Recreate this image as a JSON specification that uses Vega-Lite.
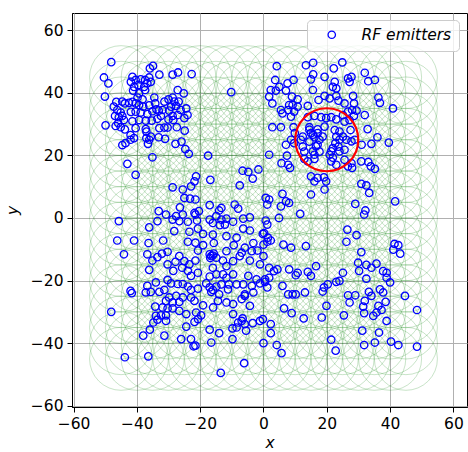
{
  "$schema": "https://vega.github.io/schema/vega-lite/v6.json",
  "width": 395,
  "height": 394,
  "autosize": {"type": "none"},
  "padding": {"left": 72, "top": 13, "right": 1, "bottom": 45},
  "config": {
    "view": {"stroke": "#000000", "strokeWidth": 1},
    "font": "DejaVu Sans",
    "axis": {
      "labelFont": "DejaVu Sans", "labelFontSize": 15.5, "labelColor": "#000000",
      "tickColor": "#000000", "domainColor": "#000000", "domainWidth": 1, "tickWidth": 1,
      "tickSize": 5, "labelPadding": 4,
      "gridColor": "#b0b0b0", "gridWidth": 1,
      "titleFont": "DejaVu Sans", "titleFontSize": 15.5, "titleFontStyle": "italic",
      "titleFontWeight": "normal", "titleColor": "#000000"
    }
  },
  "datasets": {
    "grid": [
      {"x": -45, "ys": [-45,-40,-35,-30,-25,-20,-15,-10,-5,0,5,10,15,20,25,30,35,40,45]},
      {"x": -40, "ys": [-45,-40,-35,-30,-25,-20,-15,-10,-5,0,5,10,15,20,25,30,35,40,45]},
      {"x": -35, "ys": [-45,-40,-35,-30,-25,-20,-15,-10,-5,0,5,10,15,20,25,30,35,40,45]},
      {"x": -30, "ys": [-45,-40,-35,-30,-25,-20,-15,-10,-5,0,5,10,15,20,25,30,35,40,45]},
      {"x": -25, "ys": [-45,-40,-35,-30,-25,-20,-15,-10,-5,0,5,10,15,20,25,30,35,40,45]},
      {"x": -20, "ys": [-45,-40,-35,-30,-25,-20,-15,-10,-5,0,5,10,15,20,25,30,35,40,45]},
      {"x": -15, "ys": [-45,-40,-35,-30,-25,-20,-15,-10,-5,0,5,10,15,20,25,30,35,40,45]},
      {"x": -10, "ys": [-45,-40,-35,-30,-25,-20,-15,-10,-5,0,5,10,15,20,25,30,35,40,45]},
      {"x": -5, "ys": [-45,-40,-35,-30,-25,-20,-15,-10,-5,0,5,10,15,20,25,30,35,40,45]},
      {"x": 0, "ys": [-45,-40,-35,-30,-25,-20,-15,-10,-5,0,5,10,15,20,25,30,35,40,45]},
      {"x": 5, "ys": [-45,-40,-35,-30,-25,-20,-15,-10,-5,0,5,10,15,20,25,30,35,40,45]},
      {"x": 10, "ys": [-45,-40,-35,-30,-25,-20,-15,-10,-5,0,5,10,15,20,25,30,35,40,45]},
      {"x": 15, "ys": [-45,-40,-35,-30,-25,-20,-15,-10,-5,0,5,10,15,20,25,30,35,40,45]},
      {"x": 20, "ys": [-45,-40,-35,-30,-25,-20,-15,-10,-5,0,5,10,15,20,25,30,35,40,45]},
      {"x": 25, "ys": [-45,-40,-35,-30,-25,-20,-15,-10,-5,0,5,10,15,20,25,30,35,40,45]},
      {"x": 30, "ys": [-45,-40,-35,-30,-25,-20,-15,-10,-5,0,5,10,15,20,25,30,35,40,45]},
      {"x": 35, "ys": [-45,-40,-35,-30,-25,-20,-15,-10,-5,0,5,10,15,20,25,30,35,40,45]},
      {"x": 40, "ys": [-45,-40,-35,-30,-25,-20,-15,-10,-5,0,5,10,15,20,25,30,35,40,45]},
      {"x": 45, "ys": [-45,-40,-35,-30,-25,-20,-15,-10,-5,0,5,10,15,20,25,30,35,40,45]}
    ],
    "target": [{"x": 20, "y": 25}],
    "emitters": [
      {"x":-48.1,"y":49.8},{"x":-50.4,"y":44.9},{"x":-49.0,"y":43.0},{"x":-50.1,"y":38.8},{"x":-49.9,"y":29.6},{"x":-35.9,"y":47.8},{"x":-34.9,"y":48.6},{"x":-32.9,"y":45.8},{"x":-28.7,"y":45.8},{"x":-27.0,"y":46.5},{"x":-22.7,"y":46.0},{"x":-41.4,"y":45.1},{"x":-40.4,"y":44.1},{"x":-38.8,"y":44.3},{"x":-37.4,"y":44.1},{"x":-36.1,"y":44.9},{"x":-35.6,"y":43.5},{"x":-41.9,"y":43.5},{"x":-40.9,"y":41.9},{"x":-39.5,"y":42.5},{"x":-37.7,"y":41.9},{"x":-36.7,"y":43.0},{"x":-41.2,"y":40.7},{"x":-39.3,"y":39.8},{"x":-37.4,"y":40.9},{"x":-39.8,"y":38.5},{"x":-38.2,"y":37.9},{"x":-10.2,"y":40.2},{"x":-46.5,"y":37.1},{"x":-44.6,"y":37.2},{"x":-43.8,"y":36.6},{"x":-42.5,"y":36.8},{"x":-41.4,"y":37.1},{"x":-47.3,"y":35.6},{"x":-46.2,"y":34.5},{"x":-45.1,"y":33.7},{"x":-46.9,"y":32.6},{"x":-45.7,"y":32.2},{"x":-44.6,"y":32.6},{"x":-44.1,"y":31.3},{"x":-45.9,"y":30.3},{"x":-46.7,"y":29.4},{"x":-45.1,"y":29.0},{"x":-43.8,"y":28.3},{"x":-41.9,"y":33.9},{"x":-40.4,"y":34.0},{"x":-38.8,"y":33.7},{"x":-36.7,"y":33.2},{"x":-39.3,"y":31.3},{"x":-37.2,"y":31.1},{"x":-38.0,"y":35.6},{"x":-36.1,"y":36.0},{"x":-34.5,"y":38.5},{"x":-34.2,"y":36.6},{"x":-33.8,"y":34.7},{"x":-35.1,"y":34.1},{"x":-33.1,"y":34.3},{"x":-31.9,"y":34.5},{"x":-32.4,"y":32.6},{"x":-33.5,"y":31.7},{"x":-35.3,"y":31.1},{"x":-31.3,"y":37.2},{"x":-30.0,"y":37.9},{"x":-28.7,"y":38.5},{"x":-27.1,"y":40.9},{"x":-25.2,"y":39.8},{"x":-26.8,"y":37.2},{"x":-28.2,"y":37.2},{"x":-29.2,"y":35.6},{"x":-29.8,"y":34.3},{"x":-27.6,"y":35.8},{"x":-26.2,"y":34.5},{"x":-24.4,"y":35.0},{"x":-24.0,"y":32.9},{"x":-25.0,"y":31.9},{"x":-27.1,"y":32.9},{"x":-28.7,"y":32.6},{"x":-30.0,"y":31.5},{"x":-28.5,"y":31.3},{"x":-41.4,"y":30.9},{"x":-40.4,"y":28.7},{"x":-37.2,"y":28.4},{"x":-37.0,"y":27.6},{"x":-32.9,"y":28.7},{"x":-31.3,"y":28.9},{"x":-30.3,"y":28.9},{"x":-27.4,"y":29.0},{"x":-24.9,"y":27.9},{"x":-42.0,"y":26.5},{"x":-40.9,"y":25.5},{"x":-42.0,"y":25.0},{"x":-43.6,"y":23.9},{"x":-44.6,"y":23.3},{"x":-37.0,"y":25.5},{"x":-36.1,"y":25.0},{"x":-36.5,"y":23.7},{"x":-35.6,"y":26.0},{"x":-33.1,"y":25.8},{"x":-31.1,"y":25.3},{"x":-27.8,"y":23.7},{"x":-25.9,"y":24.4},{"x":-24.7,"y":22.0},{"x":-23.6,"y":20.5},{"x":-35.1,"y":19.4},{"x":-17.5,"y":19.9},{"x":-40.4,"y":36.6},{"x":-39.3,"y":36.1},
      {"x":4.2,"y":48.5},{"x":13.4,"y":48.8},{"x":15.7,"y":49.6},{"x":24.9,"y":49.7},{"x":22.2,"y":47.8},{"x":32.0,"y":46.4},{"x":33.1,"y":43.7},{"x":35.2,"y":44.1},{"x":19.3,"y":45.1},{"x":15.7,"y":45.9},{"x":15.0,"y":44.3},{"x":3.7,"y":44.1},{"x":5.0,"y":41.9},{"x":7.6,"y":43.0},{"x":9.5,"y":44.1},{"x":2.3,"y":40.9},{"x":3.9,"y":40.7},{"x":1.8,"y":38.8},{"x":2.8,"y":36.6},{"x":7.1,"y":40.7},{"x":15.6,"y":40.9},{"x":22.5,"y":43.5},{"x":23.0,"y":41.4},{"x":21.9,"y":41.9},{"x":26.7,"y":44.6},{"x":27.8,"y":45.1},{"x":27.2,"y":43.5},{"x":9.0,"y":38.8},{"x":10.8,"y":37.9},{"x":9.2,"y":36.1},{"x":8.1,"y":36.1},{"x":17.4,"y":37.7},{"x":19.3,"y":39.0},{"x":20.9,"y":38.2},{"x":23.0,"y":39.0},{"x":23.7,"y":37.5},{"x":25.6,"y":36.6},{"x":28.3,"y":39.0},{"x":28.6,"y":36.6},{"x":36.3,"y":38.5},{"x":36.8,"y":36.8},{"x":40.9,"y":35.0},{"x":5.5,"y":34.5},{"x":6.0,"y":33.4},{"x":7.8,"y":34.5},{"x":9.7,"y":34.0},{"x":8.7,"y":32.4},{"x":10.8,"y":35.6},{"x":14.0,"y":35.8},{"x":14.0,"y":32.2},{"x":16.1,"y":32.6},{"x":18.2,"y":32.2},{"x":19.8,"y":31.9},{"x":21.4,"y":32.2},{"x":23.0,"y":31.5},{"x":25.1,"y":32.9},{"x":26.7,"y":34.0},{"x":28.0,"y":34.5},{"x":29.4,"y":34.3},{"x":28.6,"y":32.6},{"x":27.2,"y":31.3},{"x":25.6,"y":30.8},{"x":32.0,"y":32.9},{"x":2.8,"y":29.0},{"x":5.5,"y":29.0},{"x":9.5,"y":29.0},{"x":9.9,"y":27.1},{"x":8.7,"y":25.0},{"x":7.1,"y":23.4},{"x":9.7,"y":23.9},{"x":11.8,"y":25.0},{"x":12.4,"y":26.0},{"x":14.5,"y":29.0},{"x":15.0,"y":27.1},{"x":17.1,"y":28.3},{"x":16.1,"y":25.8},{"x":17.1,"y":23.4},{"x":18.7,"y":26.0},{"x":14.5,"y":24.4},{"x":12.4,"y":22.8},{"x":12.9,"y":21.2},{"x":17.7,"y":21.2},{"x":22.5,"y":28.1},{"x":24.0,"y":27.6},{"x":23.0,"y":26.0},{"x":24.0,"y":25.0},{"x":22.7,"y":23.9},{"x":23.7,"y":22.8},{"x":25.1,"y":26.0},{"x":25.6,"y":21.8},{"x":21.9,"y":22.3},{"x":20.9,"y":20.2},{"x":27.5,"y":28.1},{"x":28.8,"y":25.0},{"x":31.0,"y":23.4},{"x":32.9,"y":28.4},{"x":34.1,"y":23.7},{"x":36.0,"y":25.8},{"x":39.6,"y":24.1},{"x":1.8,"y":20.2},{"x":7.4,"y":19.9},{"x":16.1,"y":20.2},
      {"x":14.5,"y":28.2},{"x":15.6,"y":26.6},{"x":17.1,"y":27.1},{"x":17.7,"y":25.0},{"x":16.6,"y":22.9},{"x":15.6,"y":21.3},{"x":19.3,"y":29.2},{"x":26.2,"y":25.0},{"x":27.8,"y":24.5},{"x":25.6,"y":18.6},{"x":21.4,"y":21.3},{"x":24.0,"y":21.3},
      {"x":-43.0,"y":17.3},{"x":-40.4,"y":13.8},{"x":-28.7,"y":9.8},{"x":-25.5,"y":9.1},{"x":-22.9,"y":10.1},{"x":-21.8,"y":11.7},{"x":-21.3,"y":13.3},{"x":-16.8,"y":12.2},{"x":-7.5,"y":10.4},{"x":-6.6,"y":15.1},{"x":-4.8,"y":14.7},{"x":-3.4,"y":12.6},{"x":-1.6,"y":15.5},{"x":-25.0,"y":6.4},{"x":-23.2,"y":6.2},{"x":-21.5,"y":5.9},{"x":-26.4,"y":3.4},{"x":-13.3,"y":3.2},{"x":-14.0,"y":2.4},{"x":-9.1,"y":4.3},{"x":-8.0,"y":3.0},{"x":-20.4,"y":2.2},{"x":-21.5,"y":1.1},{"x":-25.5,"y":1.1},{"x":-27.6,"y":0.6},{"x":-28.7,"y":-0.5},{"x":-30.8,"y":1.1},{"x":-33.1,"y":2.2},{"x":-45.7,"y":-1.0},{"x":-33.5,"y":-1.0},{"x":-36.1,"y":-3.0},{"x":-28.2,"y":-4.2},{"x":-26.6,"y":-1.0},{"x":-23.9,"y":-1.2},{"x":-21.0,"y":-0.8},{"x":-20.7,"y":-3.4},{"x":-23.4,"y":-4.4},{"x":-17.0,"y":-0.5},{"x":-14.9,"y":0.6},{"x":-13.3,"y":-0.5},{"x":-11.7,"y":-0.2},{"x":-16.0,"y":-1.6},{"x":-13.8,"y":-2.3},{"x":-12.2,"y":-2.1},{"x":-9.6,"y":-1.2},{"x":-6.4,"y":-0.2},{"x":-4.3,"y":0.2},{"x":-6.4,"y":-3.4},{"x":-4.3,"y":-4.0},{"x":-0.2,"y":-5.1},{"x":-19.1,"y":-5.1},{"x":-16.0,"y":-5.3},{"x":-11.7,"y":-5.8},{"x":-8.5,"y":-6.3},{"x":-46.2,"y":-7.2},{"x":-40.9,"y":-7.2},{"x":-36.3,"y":-8.0},{"x":-31.7,"y":-7.2},{"x":-23.9,"y":-7.6},{"x":-21.5,"y":-7.9},{"x":-19.1,"y":-8.7},{"x":-15.7,"y":-8.0},{"x":-11.7,"y":-10.6},{"x":-9.4,"y":-8.7},{"x":-5.9,"y":-9.5},{"x":-3.2,"y":-8.0},{"x":-3.7,"y":-10.6},{"x":-1.9,"y":-10.4},{"x":0.0,"y":-8.5},{"x":-44.1,"y":-11.6},{"x":-36.7,"y":-11.6},{"x":-32.1,"y":-11.4},{"x":-30.3,"y":-10.8},{"x":-33.5,"y":-12.5},{"x":-35.1,"y":-13.6},{"x":-30.3,"y":-14.8},{"x":-27.8,"y":-14.0},{"x":-26.6,"y":-12.2},{"x":-25.0,"y":-13.8},{"x":-23.4,"y":-14.8},{"x":-21.5,"y":-13.6},{"x":-20.7,"y":-10.4},{"x":-17.0,"y":-11.6},{"x":-16.5,"y":-12.2},{"x":-15.7,"y":-11.4},{"x":-14.9,"y":-12.7},{"x":-12.8,"y":-13.6},{"x":-9.6,"y":-13.8},{"x":-7.5,"y":-12.2},{"x":-6.9,"y":-11.1},{"x":-4.3,"y":-13.6},{"x":-1.1,"y":-14.8},{"x":0.0,"y":-12.2},{"x":-11.7,"y":-15.4},{"x":-16.0,"y":-15.9},{"x":-25.7,"y":-15.9},{"x":-17.0,"y":4.1},{"x":-21.8,"y":1.6},{"x":-16.8,"y":-12.8},{"x":-16.0,"y":-12.0},
      {"x":5.7,"y":17.5},{"x":7.8,"y":17.0},{"x":8.4,"y":16.0},{"x":12.9,"y":18.9},{"x":16.1,"y":18.9},{"x":14.0,"y":18.1},{"x":21.4,"y":18.1},{"x":23.0,"y":17.0},{"x":21.9,"y":19.3},{"x":26.7,"y":16.5},{"x":28.0,"y":16.0},{"x":27.8,"y":17.5},{"x":30.9,"y":18.1},{"x":33.1,"y":17.9},{"x":33.9,"y":16.5},{"x":35.2,"y":15.7},{"x":15.0,"y":13.3},{"x":17.1,"y":12.8},{"x":16.1,"y":11.7},{"x":19.1,"y":13.0},{"x":19.8,"y":11.7},{"x":19.3,"y":9.1},{"x":15.0,"y":7.5},{"x":30.9,"y":10.9},{"x":32.5,"y":10.4},{"x":33.4,"y":8.0},{"x":41.6,"y":5.3},{"x":29.0,"y":4.5},{"x":32.2,"y":2.4},{"x":31.8,"y":1.1},{"x":6.0,"y":7.7},{"x":7.1,"y":5.3},{"x":8.1,"y":4.8},{"x":5.5,"y":3.7},{"x":1.8,"y":5.9},{"x":1.2,"y":4.3},{"x":0.7,"y":6.4},{"x":11.6,"y":1.3},{"x":4.9,"y":0.0},{"x":0.7,"y":-0.8},{"x":1.2,"y":-2.1},{"x":26.5,"y":-3.7},{"x":29.4,"y":-5.5},{"x":26.2,"y":-7.6},{"x":0.2,"y":-4.8},{"x":1.4,"y":-6.3},{"x":2.3,"y":-7.2},{"x":1.2,"y":-7.6},{"x":6.3,"y":-8.5},{"x":8.7,"y":-9.5},{"x":13.4,"y":-9.0},{"x":30.9,"y":-10.9},{"x":41.4,"y":-8.3},{"x":42.6,"y":-8.7},{"x":41.0,"y":-10.1},{"x":43.2,"y":-11.4},{"x":29.9,"y":-14.3},{"x":32.5,"y":-15.0},{"x":34.1,"y":-15.9},{"x":35.7,"y":-14.6},{"x":16.6,"y":-15.4},{"x":37.8,"y":-17.0},{"x":38.9,"y":-17.5},{"x":1.8,"y":-15.9},{"x":3.3,"y":-17.0},{"x":4.4,"y":-16.4},{"x":8.1,"y":-16.4},{"x":10.8,"y":-17.5},{"x":14.0,"y":-17.2},{"x":25.1,"y":-17.5},
      {"x":-36.1,"y":-16.6},{"x":-28.5,"y":-16.9},{"x":-23.9,"y":-16.9},{"x":-20.7,"y":-17.5},{"x":-22.9,"y":-18.5},{"x":-17.0,"y":-18.7},{"x":-14.9,"y":-18.0},{"x":-12.8,"y":-18.0},{"x":-9.6,"y":-18.0},{"x":-11.7,"y":-19.1},{"x":-4.8,"y":-18.5},{"x":-2.2,"y":-19.6},{"x":0.5,"y":-19.6},{"x":-42.0,"y":-23.3},{"x":-41.6,"y":-24.0},{"x":-37.2,"y":-23.8},{"x":-35.6,"y":-23.6},{"x":-32.9,"y":-23.6},{"x":-31.3,"y":-23.0},{"x":-36.7,"y":-21.7},{"x":-34.0,"y":-20.6},{"x":-30.3,"y":-19.8},{"x":-29.2,"y":-20.9},{"x":-27.1,"y":-21.1},{"x":-25.5,"y":-21.1},{"x":-23.9,"y":-21.9},{"x":-22.9,"y":-23.0},{"x":-20.7,"y":-22.6},{"x":-18.1,"y":-20.9},{"x":-17.0,"y":-22.2},{"x":-16.0,"y":-23.0},{"x":-14.9,"y":-21.9},{"x":-13.3,"y":-21.2},{"x":-10.9,"y":-21.2},{"x":-8.5,"y":-21.2},{"x":-6.4,"y":-21.2},{"x":-3.7,"y":-21.7},{"x":-1.1,"y":-20.9},{"x":0.5,"y":-20.4},{"x":-16.5,"y":-23.6},{"x":-14.0,"y":-24.4},{"x":-11.2,"y":-22.8},{"x":-5.9,"y":-24.4},{"x":-3.2,"y":-23.8},{"x":-27.6,"y":-24.9},{"x":-29.8,"y":-25.4},{"x":-25.5,"y":-25.4},{"x":-22.9,"y":-25.4},{"x":-21.8,"y":-26.5},{"x":-30.8,"y":-26.5},{"x":-28.7,"y":-27.0},{"x":-26.6,"y":-26.8},{"x":-34.2,"y":-28.3},{"x":-31.9,"y":-28.6},{"x":-30.3,"y":-28.9},{"x":-28.7,"y":-28.9},{"x":-26.6,"y":-29.7},{"x":-19.1,"y":-27.9},{"x":-15.9,"y":-28.6},{"x":-14.4,"y":-26.5},{"x":-11.7,"y":-27.0},{"x":-9.6,"y":-27.5},{"x":-6.9,"y":-25.9},{"x":-5.9,"y":-24.9},{"x":-4.3,"y":-28.1},{"x":-48.1,"y":-30.0},{"x":-34.0,"y":-31.3},{"x":-32.4,"y":-31.1},{"x":-30.8,"y":-31.1},{"x":-33.5,"y":-32.5},{"x":-34.8,"y":-33.4},{"x":-30.8,"y":-32.9},{"x":-24.4,"y":-30.7},{"x":-21.3,"y":-30.2},{"x":-19.7,"y":-31.1},{"x":-20.7,"y":-32.3},{"x":-21.8,"y":-33.2},{"x":-9.6,"y":-30.7},{"x":-6.6,"y":-32.1},{"x":-8.0,"y":-33.4},{"x":-6.9,"y":-32.9},{"x":-5.9,"y":-33.9},{"x":-8.5,"y":-35.0},{"x":-9.8,"y":-35.3},{"x":-5.5,"y":-36.0},{"x":-3.4,"y":-33.6},{"x":-1.1,"y":-32.9},{"x":-0.2,"y":-32.3},{"x":-24.4,"y":-34.7},{"x":-35.9,"y":-35.7},{"x":-38.0,"y":-37.6},{"x":-31.3,"y":-37.6},{"x":-26.0,"y":-38.7},{"x":-22.9,"y":-38.7},{"x":-22.1,"y":-41.0},{"x":-21.5,"y":-40.8},{"x":-17.0,"y":-35.7},{"x":-14.0,"y":-36.8},{"x":-16.5,"y":-39.8},{"x":-9.8,"y":-38.7},{"x":0.0,"y":-40.0},{"x":-43.8,"y":-44.5},{"x":-36.4,"y":-44.2},{"x":-6.1,"y":-46.4},{"x":-13.5,"y":-49.5},
      {"x":1.8,"y":-19.1},{"x":1.2,"y":-22.2},{"x":6.0,"y":-21.7},{"x":7.8,"y":-24.4},{"x":9.2,"y":-24.4},{"x":10.2,"y":-24.4},{"x":13.1,"y":-23.8},{"x":19.1,"y":-22.2},{"x":18.7,"y":-23.5},{"x":20.3,"y":-21.2},{"x":23.0,"y":-20.4},{"x":24.0,"y":-20.1},{"x":6.5,"y":-28.9},{"x":8.9,"y":-30.4},{"x":12.7,"y":-32.1},{"x":18.4,"y":-31.8},{"x":19.9,"y":-28.1},{"x":25.4,"y":-31.1},{"x":30.2,"y":-16.9},{"x":32.5,"y":-19.4},{"x":38.9,"y":-19.1},{"x":40.0,"y":-20.6},{"x":26.7,"y":-24.7},{"x":29.0,"y":-24.7},{"x":27.2,"y":-27.0},{"x":32.0,"y":-26.5},{"x":33.3,"y":-23.6},{"x":34.1,"y":-24.9},{"x":36.8,"y":-22.8},{"x":37.8,"y":-23.8},{"x":38.6,"y":-26.8},{"x":36.3,"y":-28.1},{"x":37.3,"y":-29.4},{"x":34.7,"y":-31.3},{"x":35.7,"y":-30.2},{"x":31.5,"y":-28.3},{"x":31.8,"y":-30.4},{"x":38.9,"y":-32.9},{"x":44.7,"y":-24.9},{"x":48.5,"y":-29.4},{"x":2.3,"y":-33.9},{"x":2.3,"y":-36.8},{"x":4.2,"y":-40.6},{"x":5.7,"y":-43.2},{"x":21.4,"y":-38.9},{"x":22.8,"y":-42.4},{"x":31.2,"y":-36.0},{"x":36.5,"y":-36.6},{"x":31.8,"y":-40.6},{"x":35.2,"y":-39.8},{"x":40.3,"y":-39.5},{"x":42.6,"y":-40.6},{"x":48.5,"y":-41.1},{"x":10.2,"y":-18.3},{"x":15.0,"y":-18.5}
    ]
  },
  "encoding": {
    "x": {
      "field": "x", "type": "quantitative",
      "scale": {"domain": [-60.5, 64.3], "nice": false, "zero": false},
      "axis": {"values": [-60, -40, -20, 0, 20, 40, 60], "title": "x", "titlePadding": 4}
    },
    "y": {
      "field": "y", "type": "quantitative",
      "scale": {"domain": [-60.4, 65.5], "nice": false, "zero": false},
      "axis": {"values": [-60, -40, -20, 0, 20, 40, 60], "title": "y", "titlePadding": 10}
    }
  },
  "layer": [
    {
      "data": {"name": "grid"},
      "transform": [{"flatten": ["ys"], "as": ["y"]}],
      "mark": {"type": "point", "shape": "circle", "filled": false, "size": 3969, "stroke": "#008000", "strokeOpacity": 0.3, "strokeWidth": 1, "clip": true}
    },
    {
      "data": {"name": "emitters"},
      "mark": {"type": "point", "shape": "circle", "filled": false, "size": 55, "strokeWidth": 1.3, "opacity": 1},
      "encoding": {
        "color": {
          "datum": "RF emitters", "type": "nominal",
          "scale": {"range": ["#0000ff"]},
          "legend": {
            "title": null, "orient": "none", "legendX": 235, "legendY": 7,
            "padding": 7, "fillColor": "rgba(255,255,255,0.8)", "strokeColor": "#cccccc",
            "cornerRadius": 4, "labelFont": "DejaVu Sans", "labelFontSize": 15.5,
            "labelFontStyle": "italic", "labelColor": "#000000",
            "symbolType": "circle", "symbolSize": 55, "symbolStrokeWidth": 1.3,
            "symbolOffset": 10, "labelOffset": 22
          }
        }
      }
    },
    {
      "data": {"name": "target"},
      "mark": {"type": "point", "shape": "circle", "filled": false, "size": 3969, "stroke": "#ff0000", "strokeWidth": 2.2, "opacity": 1}
    }
  ]
}
